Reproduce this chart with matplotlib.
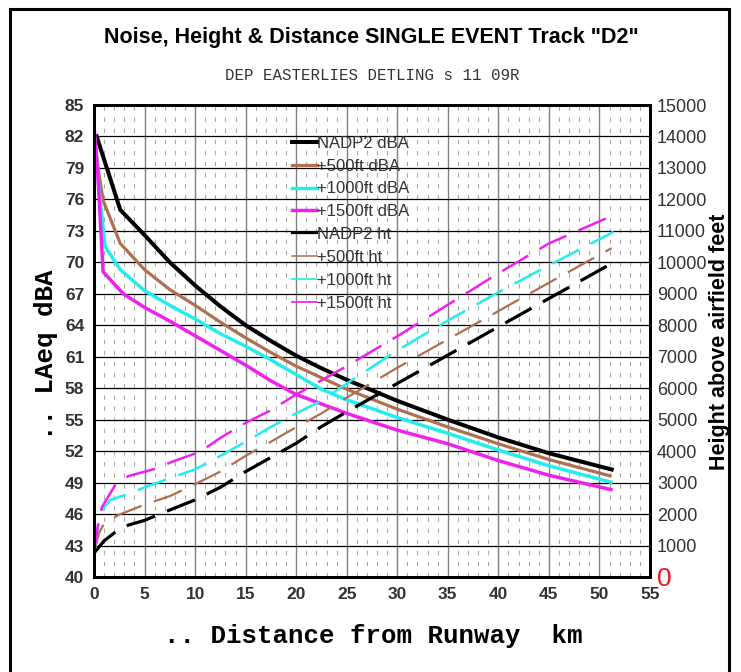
import matplotlib
matplotlib.use("Agg")
import matplotlib.pyplot as plt
from matplotlib.lines import Line2D
from matplotlib.patches import Rectangle
import numpy as np

# noise level (dBA) against distance from runway (km)
nadp2_db_x = [0.2, 2.6, 5, 7.5, 10, 12.5, 15, 17.5, 20, 22.5, 25, 30, 35, 40, 45, 51.4]
nadp2_db = [82.2, 75.0, 72.6, 70.0, 67.8, 65.8, 64.0, 62.5, 61.1, 59.9, 58.8, 56.8, 55.0, 53.3, 51.8, 50.2]

p500_db_x = [0, 0.4, 0.9, 2.6, 5, 7.5, 10, 12.5, 15, 17.5, 20, 22.5, 25, 30, 35, 40, 45, 51.2]
p500_db = [82.5, 79.0, 75.9, 71.8, 69.3, 67.4, 65.9, 64.3, 62.8, 61.4, 60.1, 59.0, 57.9, 56.0, 54.3, 52.7, 51.2, 49.6]

p1000_db_x = [0, 0.5, 1.1, 2.6, 5, 7.5, 10, 12.5, 15, 17.5, 20, 22.5, 25, 30, 35, 40, 45, 51.3]
p1000_db = [82.5, 77.0, 71.5, 69.3, 67.3, 65.9, 64.6, 63.2, 62.0, 60.7, 59.3, 57.9, 56.9, 55.2, 53.7, 52.1, 50.6, 49.0]

p1500_db_x = [0, 0.4, 0.9, 2.9, 5, 7.5, 10, 12.5, 15, 17.5, 20, 22.5, 25, 30, 35, 40, 45, 51.3]
p1500_db = [83.0, 78.0, 69.1, 67.0, 65.7, 64.4, 63.0, 61.6, 60.2, 58.7, 57.4, 56.5, 55.6, 54.0, 52.7, 51.1, 49.7, 48.3]

# aircraft height (ft) against distance from runway (km)
nadp2_ht_x = [0, 1, 2.2, 3.4, 5, 7.5, 10, 12.5, 15, 17.5, 20, 22.5, 25, 30, 35, 40, 45, 51.4]
nadp2_ht = [760, 1150, 1450, 1650, 1800, 2130, 2450, 2850, 3350, 3800, 4250, 4780, 5250, 6150, 7050, 7950, 8850, 10000]

p500_ht_x = [0, 0.5, 1, 2.4, 5, 7.5, 10, 12.5, 15, 17.5, 20, 22.5, 25, 30, 35, 40, 45, 51.2]
p500_ht = [760, 1400, 1700, 1970, 2300, 2570, 2950, 3350, 3850, 4300, 4760, 5200, 5700, 6650, 7550, 8450, 9350, 10450]

p1000_ht_x = [0, 0.5, 0.9, 1.6, 3.6, 5, 7.5, 10, 12.5, 15, 17.5, 20, 22.5, 25, 30, 35, 40, 45, 51.4]
p1000_ht = [760, 1800, 2180, 2450, 2660, 2850, 3140, 3420, 3850, 4300, 4770, 5200, 5600, 6150, 7200, 8150, 9050, 9900, 10970]

p1500_ht_x = [0, 0.5, 0.8, 2.1, 3.4, 6.2, 7.7, 10.5, 12.5, 15, 17.5, 20, 22.5, 25, 30, 35, 40, 45, 51.4]
p1500_ht = [760, 1900, 2230, 2920, 3210, 3450, 3660, 3980, 4420, 4900, 5300, 5800, 6250, 6700, 7650, 8650, 9650, 10600, 11500]

db_labels = ["NADP2 dBA", "+500ft dBA", "+1000ft dBA", "+1500ft dBA"]
ht_labels = ["NADP2 ht", "+500ft ht", "+1000ft ht", "+1500ft ht"]
colors = ["#000000", "#b07050", "#22eeee", "#ee22ee"]

SANS = "Liberation Sans"
MONO = "Liberation Mono"
TXT = "#333333"

fig = plt.figure(figsize=(7.41, 6.72), dpi=100)
ax = fig.add_axes([94 / 741, 95 / 672, 556 / 741, 472 / 672])
ax2 = ax.twinx()

# outer frame
fig.add_artist(Rectangle((10 / 741, -0.1), 719 / 741, 1.1 - 9 / 672,
                         transform=fig.transFigure, fill=False,
                         lw=2.2, ec="black", clip_on=False))

ax.set_xlim(0, 55)
ax.set_ylim(40, 85)
ax2.set_ylim(0, 15000)
ax.set_xticks(np.arange(0, 56, 5))
ax.set_xticks(np.arange(0, 56, 1), minor=True)
ax.set_yticks(np.arange(40, 86, 3))
ax2.set_yticks(np.arange(0, 15001, 1000))

ax.grid(which="minor", axis="x", color="#aaaaaa", lw=0.8, linestyle=(0, (4, 6)))
ax.grid(which="major", axis="x", color="#808080", lw=1.0)
ax.grid(which="major", axis="y", color="#000000", lw=0.9)
ax.set_axisbelow(True)

for a in (ax, ax2):
    for s in a.spines.values():
        s.set_linewidth(2.0)
        s.set_color("black")

ax.tick_params(which="both", length=0)
ax.tick_params(axis="y", pad=7, labelsize=12.5, labelcolor=TXT)
ax.tick_params(axis="x", pad=7, labelsize=12.5, labelcolor=TXT)
ax2.tick_params(length=0, pad=5, labelsize=13, labelcolor=TXT)
for lab in ax.get_xticklabels() + ax.get_yticklabels():
    lab.set_fontfamily(SANS)
    lab.set_fontweight("bold")
for lab in ax2.get_yticklabels():
    lab.set_fontfamily(SANS)
zero = ax2.get_yticklabels()[0]
zero.set_color("#ee1122")
zero.set_fontsize(19)

# noise curves
db_x = [nadp2_db_x, p500_db_x, p1000_db_x, p1500_db_x]
db_y = [nadp2_db, p500_db, p1000_db, p1500_db]
db_lw = [2.9, 2.3, 2.5, 2.5]
for x, y, c, w in zip(db_x, db_y, colors, db_lw):
    ax.plot(x, y, color=c, lw=w, solid_capstyle="butt")

# height curves, dashed
ht_x = [nadp2_ht_x, p500_ht_x, p1000_ht_x, p1500_ht_x]
ht_y = [nadp2_ht, p500_ht, p1000_ht, p1500_ht]
ht_lw = [2.3, 1.6, 1.8, 1.8]
for x, y, c, w in zip(ht_x, ht_y, colors, ht_lw):
    ax2.plot(x, y, color=c, lw=w, linestyle=(0, (21.6 / w, 9.4 / w)),
             dash_capstyle="butt")

handles = [Line2D([], [], color=c, lw=w) for c, w in zip(colors, db_lw)]
handles += [Line2D([], [], color=c, lw=w * 0.7) for c, w in zip(colors, ht_lw)]
leg = ax2.legend(handles, db_labels + ht_labels, loc="upper left",
                 bbox_to_anchor=(0.345, 0.949), frameon=False,
                 prop={"family": SANS, "size": 12}, labelcolor=TXT,
                 handlelength=1.5, handletextpad=0.0, labelspacing=0.47,
                 borderaxespad=0)

fig.text(371 / 741, 1 - 37 / 672, 'Noise, Height & Distance SINGLE EVENT Track "D2"',
         ha="center", va="center", family=SANS, weight="bold", size=15.5)
fig.text(372 / 741, 1 - 75 / 672, "DEP EASTERLIES DETLING s 11 09R",
         ha="center", va="center", family=MONO, size=11.3, color=TXT)

fig.text(373 / 741, 1 - 636 / 672, ".. Distance from Runway  km",
         ha="center", va="center", family=MONO, weight="bold", size=18.5)
fig.text(46 / 741, 1 - 355 / 672, ".. LAeq dBA", rotation=90,
         ha="center", va="center", family=MONO, weight="bold", size=18.5)
fig.text(719 / 741, 1 - 342 / 672, "Height above airfield feet", rotation=90,
         ha="center", va="center", family=SANS, weight="bold", size=15.5)

fig.savefig("out.png", dpi=100)
